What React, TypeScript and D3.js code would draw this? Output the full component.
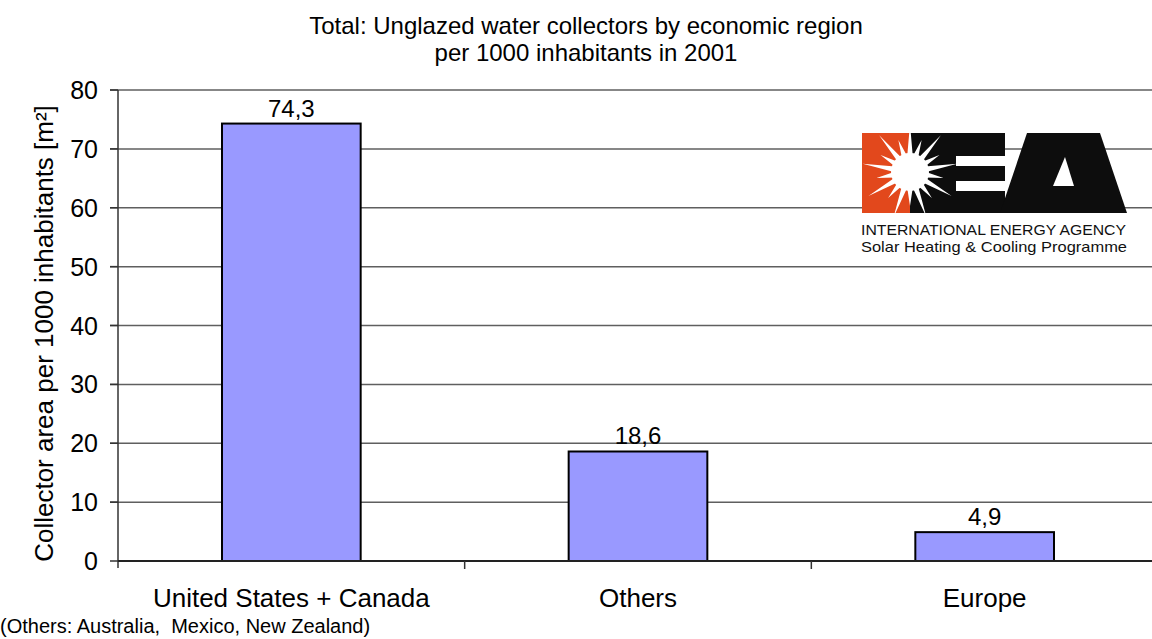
import React from 'react';
import * as d3 from 'd3';

const categories = ['United States + Canada', 'Others', 'Europe'];
const values = [74.3, 18.6, 4.9];
const valueLabels = ['74,3', '18,6', '4,9'];
const yTicks = [0, 10, 20, 30, 40, 50, 60, 70, 80];
const titleLines = ['Total: Unglazed water collectors by economic region', 'per 1000 inhabitants in 2001'];
const yAxisTitle = 'Collector area per 1000 inhabitants [m²]';
const footnote = '(Others: Australia,  Mexico, New Zealand)';
const logoLines = ['INTERNATIONAL ENERGY AGENCY', 'Solar Heating & Cooling Programme'];

const W = 1152;
const H = 639;
const FONT = "'Liberation Sans', Arial, sans-serif";

export default function App() {
  const x = d3.scaleBand<string>().domain(categories).range([118, 1158]).paddingInner(0.6).paddingOuter(0.3);
  const step = x.step();
  const y = d3.scaleLinear().domain([0, 80]).range([561, 90]);
  const bounds = d3.range(1, categories.length).map((i) => 118 + i * step);

  // logo sun star
  const cx = 910, cy = 172;
  const nSpikes = 18;
  const starPts: [number, number][] = [];
  for (let i = 0; i < nSpikes * 2; i++) {
    const a = (i * Math.PI) / nSpikes - Math.PI / 2;
    let r;
    if (i % 2 === 0) r = (i / 2) % 2 === 0 ? 48 : 34;
    else r = 16;
    starPts.push([cx + r * Math.cos(a), cy + r * Math.sin(a)]);
  }
  const starPath = d3.line()(starPts) + 'Z';

  return (
    <svg width={W} height={H} style={{ position: 'absolute', left: 0, top: 0, background: '#fff' }} fontFamily={FONT}>
      <rect x={0} y={0} width={W} height={H} fill="#fff" />
      {/* title */}
      {titleLines.map((t, i) => (
        <text key={t} x={586} y={34} dy={i * 27} textAnchor="middle" fontSize={24} fill="#000">{t}</text>
      ))}
      {/* gridlines */}
      {yTicks.filter((t) => t > 0).map((t) => (
        <line key={t} x1={110} x2={1158} y1={y(t)} y2={y(t)} stroke="#5f5f5f" strokeWidth={1.5} />
      ))}
      {/* y ticks labels */}
      {yTicks.map((t) => (
        <text key={'l' + t} x={98} y={y(t)} dy="0.36em" textAnchor="end" fontSize={25} fill="#000">{t}</text>
      ))}
      {/* logo */}
      <g>
        <defs>
          <clipPath id="sunclip">
            <rect x={862} y={133} width={143} height={80} />
          </clipPath>
        </defs>
        <rect x={862} y={133} width={48} height={80} fill="#E2481C" />
        <rect x={910} y={133} width={95} height={80} fill="#0d0d0d" />
        <rect x={956} y={156} width={49} height={10} fill="#fff" />
        <rect x={956} y={181} width={49} height={10} fill="#fff" />
        <g clipPath="url(#sunclip)">
          <path d={starPath} fill="#fff" />
          <circle cx={cx} cy={cy} r={19} fill="#fff" />
        </g>
        <path d="M1027,133 L1100,133 L1127,213 L1000,213 Z" fill="#0d0d0d" />
        <path d="M1065,157 L1053,186 L1074,186 Z" fill="#fff" />
        <text x={861} y={235} fontSize={14.5} textLength={265} lengthAdjust="spacingAndGlyphs" fill="#111">{logoLines[0]}</text>
        <text x={861} y={252} fontSize={14.5} textLength={266} lengthAdjust="spacingAndGlyphs" fill="#111">{logoLines[1]}</text>
      </g>
      {/* bars */}
      {categories.map((c, i) => (
        <g key={c}>
          <rect x={x(c)} y={y(values[i])} width={x.bandwidth()} height={y(0) - y(values[i])} fill="#9999FF" stroke="#000" strokeWidth={2} />
          <text x={(x(c) as number) + x.bandwidth() / 2} y={y(values[i]) - 7} textAnchor="middle" fontSize={24} fill="#000">{valueLabels[i]}</text>
          <text x={(x(c) as number) + x.bandwidth() / 2} y={607} textAnchor="middle" fontSize={26} fill="#000">{c}</text>
        </g>
      ))}
      {/* axes */}
      <line x1={118} x2={118} y1={y(80)} y2={y(0) + 7} stroke="#333" strokeWidth={1.5} />
      <line x1={118} x2={1158} y1={y(0)} y2={y(0)} stroke="#222" strokeWidth={2} />
      {yTicks.map((t) => (
        <line key={'t' + t} x1={110} x2={118} y1={y(t)} y2={y(t)} stroke="#333" strokeWidth={1.5} />
      ))}
      {bounds.map((b) => (
        <line key={'b' + b} x1={b} x2={b} y1={y(0)} y2={y(0) + 8} stroke="#333" strokeWidth={1.5} />
      ))}
      {/* y axis title */}
      <text transform={`translate(53,${(y(0) + y(80)) / 2 + 8}) rotate(-90)`} textAnchor="middle" fontSize={26} fill="#000">{yAxisTitle}</text>
      {/* footnote */}
      <text x={0} y={633} fontSize={20} fill="#000" style={{ whiteSpace: 'pre' }}>{footnote}</text>
    </svg>
  );
}
